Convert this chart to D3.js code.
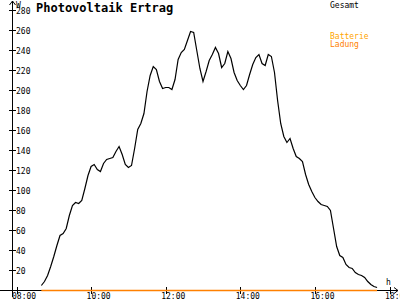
<!DOCTYPE html>
<html>
<head>
<meta charset="utf-8">
<script src="https://cdn.jsdelivr.net/npm/d3@7"></script>
<style>
body { margin: 0; background: #fff; }
svg { display: block; }
text { font-family: "DejaVu Sans Mono", monospace; }
</style>
</head>
<body>
<script>
// Gesamt (W), one reading every 5 minutes from 08:40
let startTime = "08:40"
let stepMinutes = 5
let gesamt = [5, 9, 15, 24, 34, 45, 55, 57, 62, 75,
  85, 88, 87, 90, 102, 115, 124, 126, 121, 119,
  127, 131, 132, 133, 139, 144, 136, 126, 123, 125,
  142, 161, 167, 177, 199, 215, 224, 221, 209, 202,
  203, 203, 201, 211, 231, 238, 241, 250, 259, 258,
  240, 222, 209, 219, 230, 236, 243, 237, 223, 227,
  239, 232, 218, 210, 205, 201, 205, 216, 226, 233,
  236, 227, 225, 236, 234, 218, 190, 167, 154, 148,
  152, 142, 134, 132, 129, 116, 106, 99, 93, 89,
  86, 85, 84, 80, 62, 44, 35, 33, 26, 23,
  22, 18, 16, 15, 13, 9, 6, 4, 3]
let ladung = gesamt.map(() => 0)

let yTicks = [20, 40, 60, 80, 100, 120, 140, 160, 180, 200, 220, 240, 260, 280]
let xTickLabels = ["08:00", "10:00", "12:00", "14:00", "16:00", "18:00"]

let w = 400
let h = 300

let parse = d3.timeParse("%H:%M")
let t0 = parse(startTime)
let times = gesamt.map((v, i) => d3.timeMinute.offset(t0, i * stepMinutes))

let svg = d3.select("body").append("svg")
  .attr("width", w)
  .attr("height", h)

let xScale = d3.scaleTime()
  .domain([parse("08:00"), parse("18:00")])
  .range([16.5, 389.5])

let yScale = d3.scaleLinear()
  .domain([0, 280])
  .range([290.5, 10.5])

// axes lines
svg.append("line")
  .attr("x1", 0).attr("x2", 398)
  .attr("y1", yScale(0)).attr("y2", yScale(0))
  .attr("stroke", "black")
svg.append("path")
  .attr("d", "M394,287.5 L398,290.5 L394,293.5")
  .attr("fill", "none").attr("stroke", "black")

svg.append("line")
  .attr("x1", 12.5).attr("x2", 12.5)
  .attr("y1", 1).attr("y2", 297)
  .attr("stroke", "black")
svg.append("path")
  .attr("d", "M9.5,5 L12.5,1 L15.5,5")
  .attr("fill", "none").attr("stroke", "black")

// y ticks
let yAxis = svg.append("g")
yAxis.selectAll("line")
  .data(yTicks)
  .enter()
  .append("line")
  .attr("x1", 9).attr("x2", 16)
  .attr("y1", d => yScale(d)).attr("y2", d => yScale(d))
  .attr("stroke", "black")
yAxis.selectAll("text")
  .data(yTicks)
  .enter()
  .append("text")
  .attr("x", 16)
  .attr("y", d => yScale(d) + 3)
  .attr("font-size", 8)
  .text(d => d)

// x ticks
let xAxis = svg.append("g")
xAxis.selectAll("line")
  .data(xTickLabels)
  .enter()
  .append("line")
  .attr("x1", d => Math.round(xScale(parse(d))) + 0.5)
  .attr("x2", d => Math.round(xScale(parse(d))) + 0.5)
  .attr("y1", 287).attr("y2", 294)
  .attr("stroke", "black")
xAxis.selectAll("text")
  .data(xTickLabels)
  .enter()
  .append("text")
  .attr("x", d => xScale(parse(d)) - 4.5)
  .attr("y", 299)
  .attr("font-size", 8)
  .text(d => d)

svg.append("text").attr("x", 16).attr("y", 8).attr("font-size", 8).text("W")
svg.append("text").attr("x", 386).attr("y", 285).attr("font-size", 8).text("h")

// title
svg.append("text")
  .attr("x", 36).attr("y", 12)
  .attr("font-size", 12)
  .attr("font-weight", "bold")
  .text("Photovoltaik Ertrag")

// legend
svg.append("text").attr("x", 330).attr("y", 8).attr("font-size", 8).attr("fill", "black").text("Gesamt")
svg.append("text").attr("x", 330).attr("y", 39).attr("font-size", 8).attr("fill", "#ffa500").text("Batterie")
svg.append("text").attr("x", 330).attr("y", 47).attr("font-size", 8).attr("fill", "#ff8000").text("Ladung")

let line = d3.line()
  .x((d, i) => xScale(times[i]))
  .y(d => yScale(d))

svg.append("path")
  .datum(ladung)
  .attr("d", line)
  .attr("fill", "none")
  .attr("stroke", "#ff8000")
  .attr("stroke-width", 1.5)

svg.append("path")
  .datum(gesamt)
  .attr("d", line)
  .attr("fill", "none")
  .attr("stroke", "black")
  .attr("stroke-width", 1.2)
</script>
</body>
</html>
